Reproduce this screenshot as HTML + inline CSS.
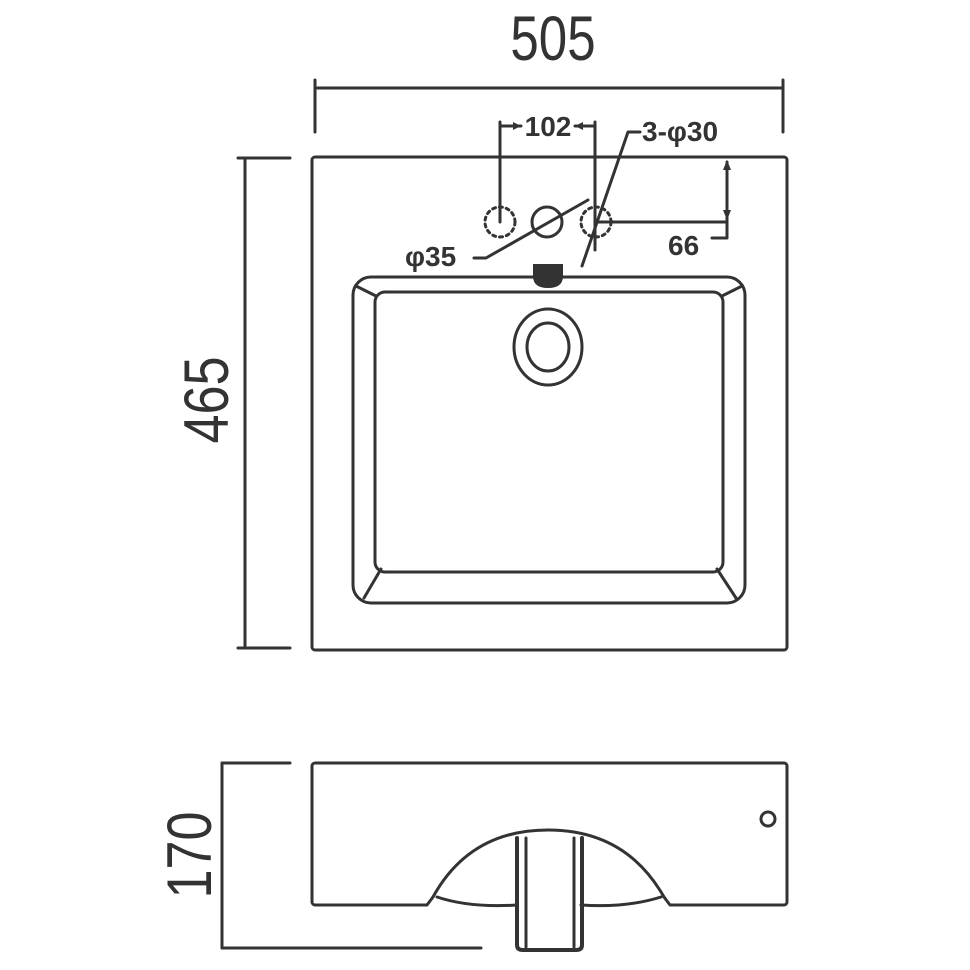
<!DOCTYPE html>
<html><head><style>html,body{margin:0;padding:0;background:#fff}svg{display:block}</style></head>
<body>
<svg width="970" height="970" viewBox="0 0 970 970" xmlns="http://www.w3.org/2000/svg">
<g fill="none" stroke="#333" stroke-width="3" stroke-linecap="round" stroke-linejoin="round">
<line x1="315" y1="88" x2="783" y2="88"/>
<line x1="315" y1="80" x2="315" y2="132"/>
<line x1="783" y1="80" x2="783" y2="132"/>
<line x1="245" y1="158" x2="245" y2="648"/>
<line x1="238" y1="158" x2="290" y2="158"/>
<line x1="238" y1="648" x2="290" y2="648"/>
<rect x="312" y="157" width="475" height="493" rx="3"/>
<rect x="353" y="277" width="392" height="326" rx="18"/>
<rect x="375" y="292" width="348" height="280" rx="10"/>
<line x1="356" y1="286" x2="376" y2="296"/>
<line x1="742" y1="286" x2="722" y2="296"/>
<line x1="364" y1="598" x2="381" y2="569"/>
<line x1="736" y1="598" x2="717" y2="569"/>
<ellipse cx="548" cy="347" rx="34" ry="38"/>
<ellipse cx="548" cy="347" rx="21" ry="24"/>
<circle cx="547" cy="222" r="15"/>
<circle cx="500" cy="222" r="15" stroke-dasharray="3 4"/>
<circle cx="596" cy="222" r="15" stroke-dasharray="3 4"/>
<line x1="500" y1="122" x2="500" y2="222"/>
<line x1="595" y1="122" x2="595" y2="250"/>
<line x1="502" y1="126" x2="521" y2="126"/>
<line x1="575" y1="126" x2="593" y2="126"/>
<polyline points="640,132 628,132 582,266"/>
<polyline points="474,258 486,258 588,200"/>
<line x1="727" y1="162" x2="727" y2="222"/>
<line x1="595" y1="222" x2="727" y2="222"/>
<polyline points="727,222 727,238 712,238"/>
<line x1="222" y1="763" x2="222" y2="948"/>
<line x1="222" y1="763" x2="290" y2="763"/>
<line x1="222" y1="948" x2="481" y2="948"/>
<path d="M315,763 H784 a3,3 0 0 1 3,3 V902 a3,3 0 0 1 -3,3 H670 L664,897 M433,897 L427,905 H315 a3,3 0 0 1 -3,-3 V766 a3,3 0 0 1 3,-3"/>
<path d="M433,897 Q470,830 548,830 Q626,830 664,897"/>
<path d="M437,897 Q470,908 517,905"/>
<path d="M661,897 Q626,908 581,905"/>
<path d="M517,838 V945 Q517,950 523,950 H576 Q582,950 582,945 V838" stroke-width="4"/>
<line x1="526" y1="838" x2="526" y2="947"/>
<line x1="574" y1="838" x2="574" y2="947"/>
<circle cx="768" cy="819" r="7"/>
</g>
<g fill="#333">
<polygon points="521,126 513,122 513,130"/>
<polygon points="575,126 583,122 583,130"/>
<polygon points="727,160 723,170 731,170"/>
<polygon points="727,220 723,210 731,210"/>
<path d="M533,264 H563 V276 Q563,288 548,288 Q533,288 533,276 Z"/>
</g>
<g fill="#333" font-family="Liberation Sans, sans-serif">
<text transform="translate(553,60) scale(0.88,1.08)" font-size="58" text-anchor="middle">505</text>
<text x="548" y="136" font-size="28" font-weight="bold" text-anchor="middle" transform="translate(0,0)">102</text>
<text x="642" y="141" font-size="28" font-weight="bold">3-φ30</text>
<text x="405" y="266" font-size="28" font-weight="bold">φ35</text>
<text x="668" y="255" font-size="28" font-weight="bold">66</text>
<text transform="translate(228,400) rotate(-90) scale(0.9,1.08)" font-size="58" text-anchor="middle">465</text>
<text transform="translate(211,855) rotate(-90) scale(0.9,1.08)" font-size="58" text-anchor="middle">170</text>
</g>
</svg>
</body></html>
